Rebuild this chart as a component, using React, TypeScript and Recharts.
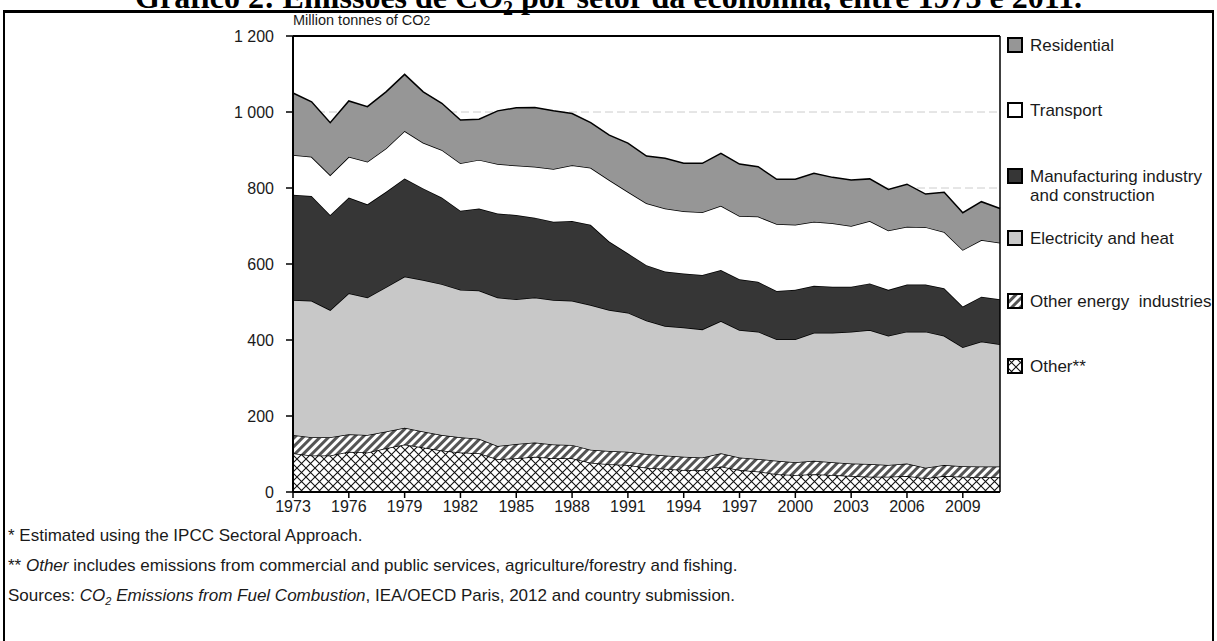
import React from 'react'
import {
  AreaChart,
  Area,
  XAxis,
  YAxis,
  CartesianGrid,
  ReferenceLine,
} from 'recharts'

// Million tonnes of CO2, by sector, 1973-2011
const years = [
  1973, 1974, 1975, 1976, 1977, 1978, 1979, 1980, 1981, 1982, 1983, 1984, 1985,
  1986, 1987, 1988, 1989, 1990, 1991, 1992, 1993, 1994, 1995, 1996, 1997, 1998,
  1999, 2000, 2001, 2002, 2003, 2004, 2005, 2006, 2007, 2008, 2009, 2010, 2011,
]

const other = [
  102, 96, 96, 106, 104, 115, 125, 117, 109, 104, 102, 86, 89, 93, 89, 89, 77,
  73, 71, 64, 61, 58, 58, 67, 58, 54, 47, 45, 47, 45, 42, 40, 40, 42, 36, 42,
  40, 39, 39,
]

const otherEnergy = [
  48, 48, 48, 46, 46, 44, 44, 42, 41, 40, 38, 35, 37, 37, 36, 35, 34, 35, 35, 36,
  35, 35, 33, 35, 33, 33, 35, 33, 35, 33, 33, 34, 31, 33, 28, 29, 28, 28, 28,
]

const electricity = [
  355, 359, 335, 371, 362, 380, 398, 399, 397, 388, 390, 391, 381, 382, 380,
  379, 381, 371, 366, 351, 341, 340, 337, 348, 335, 335, 320, 324, 337, 341,
  347, 352, 340, 347, 358, 340, 313, 329, 322,
]

const manufacturing = [
  277, 276, 250, 252, 245, 251, 258, 241, 228, 208, 216, 221, 222, 210, 206,
  210, 211, 180, 156, 146, 143, 142, 143, 134, 134, 131, 127, 130, 124, 121,
  118, 123, 121, 124, 124, 125, 107, 118, 118,
]

const transport = [
  105, 103, 105, 107, 112, 114, 125, 120, 125, 125, 128, 130, 130, 134, 139,
  147, 150, 162, 162, 163, 166, 164, 165, 169, 166, 172, 176, 171, 168, 167,
  160, 164, 156, 152, 151, 148, 149, 149, 149,
]

const residential = [
  163, 145, 138, 147, 145, 149, 149, 134, 123, 114, 107, 140, 152, 156, 153,
  136, 119, 118, 128, 124, 132, 126, 129, 138, 137, 131, 118, 120, 128, 121,
  121, 111, 108, 112, 87, 105, 98, 101, 90,
]

const yTicks = [0, 200, 400, 600, 800, 1000, 1200]

const data = years.map((year, i) => ({
  year,
  other: other[i],
  otherEnergy: otherEnergy[i],
  electricity: electricity[i],
  manufacturing: manufacturing[i],
  transport: transport[i],
  residential: residential[i],
}))

// stacking order, bottom to top
const series = [
  { key: 'other', name: 'Other**', fill: 'url(#crossHatch)' },
  { key: 'otherEnergy', name: 'Other energy  industries', fill: 'url(#stripes)' },
  { key: 'electricity', name: 'Electricity and heat', fill: '#c8c8c8' },
  { key: 'manufacturing', name: 'Manufacturing industry\nand construction', fill: '#363636' },
  { key: 'transport', name: 'Transport', fill: '#ffffff' },
  { key: 'residential', name: 'Residential', fill: '#969696' },
]

const legendTops = [36, 101, 167, 229, 292, 357]

const FONT = '"Liberation Sans", Arial, Helvetica, sans-serif'
const INK = '#1a1a1a'

const fmtThousands = (v: number) =>
  v >= 1000 ? `${Math.floor(v / 1000)} ${String(v % 1000).padStart(3, '0')}` : String(v)

const Patterns: React.FC<{ suffix?: string }> = ({ suffix = '' }) => (
  <defs>
    <pattern
      id={`crossHatch${suffix}`}
      patternUnits="userSpaceOnUse"
      width={9}
      height={9}
    >
      <rect width={9} height={9} fill="#ffffff" />
      <path d="M0,0 L9,9 M9,0 L0,9" stroke="#111" strokeWidth={1.1} />
    </pattern>
    <pattern
      id={`stripes${suffix}`}
      patternUnits="userSpaceOnUse"
      width={6}
      height={6}
      patternTransform="rotate(45)"
    >
      <rect width={6} height={6} fill="#ffffff" />
      <rect width={3} height={6} fill="#555555" />
    </pattern>
  </defs>
)

const Swatch: React.FC<{ fill: string; id: string }> = ({ fill, id }) => (
  <svg width={17} height={17} style={{ display: 'block' }}>
    <Patterns suffix={id} />
    <rect
      x={1}
      y={1}
      width={14}
      height={14}
      fill={fill.startsWith('url') ? fill.replace(')', `${id})`) : fill}
      stroke="#000"
      strokeWidth={2}
    />
  </svg>
)

export default function App() {
  const legendItems = [...series].reverse()
  return (
    <div
      style={{
        position: 'absolute',
        left: 0,
        top: 0,
        width: 1217,
        height: 641,
        overflow: 'hidden',
        background: '#fff',
        fontFamily: FONT,
        color: INK,
      }}
    >
      <div
        style={{
          position: 'absolute',
          left: 0,
          width: 1217,
          top: -20,
          textAlign: 'center',
          fontFamily: '"Liberation Serif", "Times New Roman", serif',
          fontWeight: 'bold',
          fontSize: 32,
          lineHeight: '34px',
          whiteSpace: 'nowrap',
          color: '#000',
        }}
      >
        Gráfico 2: Emissões de CO<sub style={{ fontSize: 20, lineHeight: 0 }}>2</sub> por setor
        da economia, entre 1973 e 2011.
      </div>

      <div
        style={{
          position: 'absolute',
          left: 3,
          top: 10,
          width: 1207,
          height: 700,
          borderLeft: '2px solid #000',
          borderRight: '2px solid #000',
          borderTop: '3px solid #000',
        }}
      />

      <div style={{ position: 'absolute', left: 293, top: 12, fontSize: 14.5, whiteSpace: 'nowrap' }}>
        Million tonnes of CO<span style={{ fontSize: 12 }}>2</span>
      </div>

      <div style={{ position: 'absolute', left: 0, top: 0 }}>
        <AreaChart
          width={1217}
          height={641}
          data={data}
          margin={{ top: 36, right: 217, left: 233, bottom: 119 }}
        >
          <Patterns />
          <CartesianGrid vertical={false} stroke="#cccccc" strokeDasharray="8 4" />
          <XAxis
            dataKey="year"
            interval={2}
            height={30}
            tick={{ fontSize: 16, fill: INK, fontFamily: FONT }}
            tickLine={{ stroke: '#000', strokeWidth: 1.5 }}
            tickSize={6}
            tickMargin={3}
            axisLine={{ stroke: '#000', strokeWidth: 2 }}
          />
          <YAxis
            type="number"
            domain={[0, 1200]}
            ticks={yTicks}
            interval={0}
            width={60}
            tickFormatter={fmtThousands}
            tick={{ fontSize: 16, fill: INK, fontFamily: FONT }}
            tickLine={{ stroke: '#000', strokeWidth: 1.5 }}
            tickSize={7}
            tickMargin={12}
            axisLine={{ stroke: '#000', strokeWidth: 2 }}
          />
          {series.map((s) => (
            <Area
              key={s.key}
              type="linear"
              dataKey={s.key}
              name={s.name}
              stackId="sectors"
              stroke="#000"
              strokeWidth={1.5}
              fill={s.fill}
              fillOpacity={1}
              dot={false}
              activeDot={false}
              isAnimationActive={false}
            />
          ))}
          <ReferenceLine y={1200} stroke="#000" strokeWidth={2} />
          <ReferenceLine x={2011} stroke="#000" strokeWidth={1.5} />
        </AreaChart>
      </div>

      {legendItems.map((s, i) => (
        <div
          key={s.key}
          style={{
            position: 'absolute',
            left: 1007,
            top: legendTops[i],
            display: 'flex',
            alignItems: 'flex-start',
            fontSize: 17,
            lineHeight: '19px',
            whiteSpace: 'nowrap',
          }}
        >
          <div style={{ marginRight: 6, marginTop: 1 }}>
            <Swatch fill={s.fill} id={`-lg${i}`} />
          </div>
          <div style={{ whiteSpace: 'pre' }}>{s.name}</div>
        </div>
      ))}

      <div style={{ position: 'absolute', left: 8, top: 521, fontSize: 17, lineHeight: '30px', whiteSpace: 'nowrap' }}>
        <div>* Estimated using the IPCC Sectoral Approach.</div>
        <div>
          ** <i>Other</i> includes emissions from commercial and public services,
          agriculture/forestry and fishing.
        </div>
        <div>
          Sources: <i>CO<sub style={{ fontSize: 11, lineHeight: 0 }}>2</sub> Emissions from Fuel Combustion</i>, IEA/OECD Paris, 2012 and
          country submission.
        </div>
      </div>
    </div>
  )
}
